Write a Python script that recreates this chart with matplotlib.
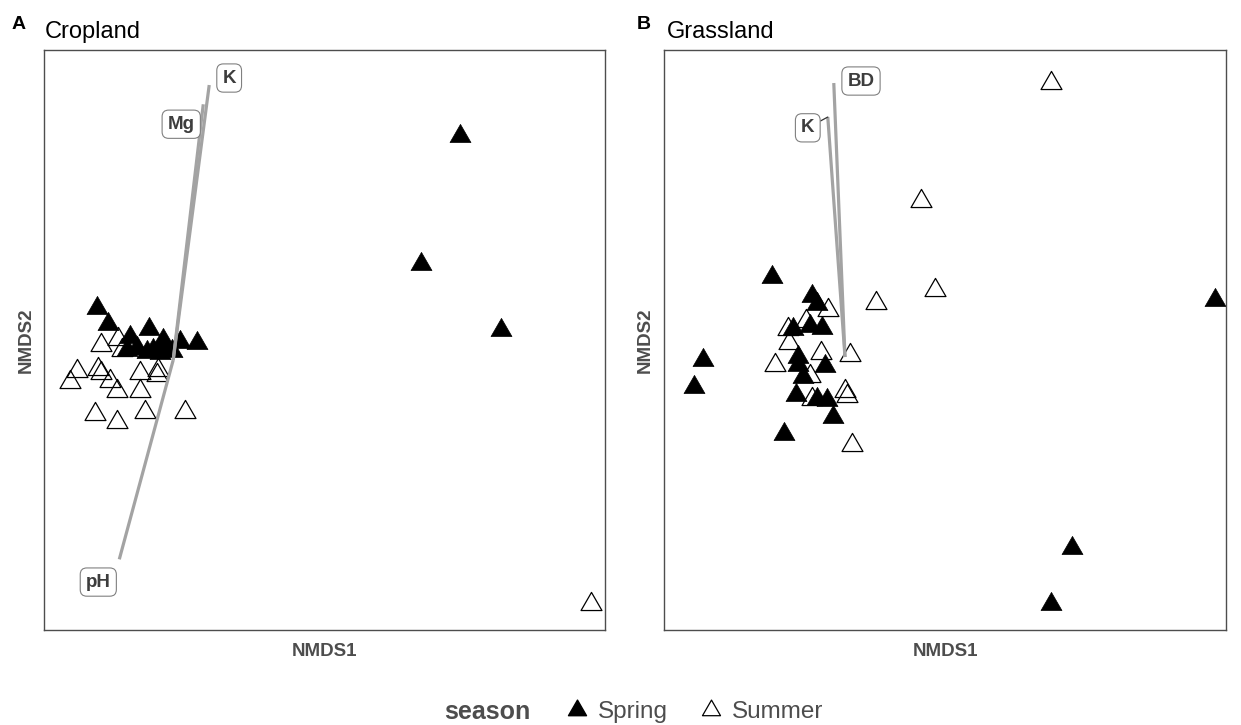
import numpy as np
import matplotlib.pyplot as plt
from matplotlib.lines import Line2D
from matplotlib.path import Path

plt.rcParams['font.family'] = ['Liberation Sans', 'DejaVu Sans']

# ---- Cropland NMDS scores ----
crop_spring_x = [-0.217, -0.186, -0.123, -0.069, -0.029, 0.020, 0.069, -0.131, -0.103,
                 -0.074, -0.057, -0.037, -0.017, -0.003, 0.820, 0.709, 0.937]
crop_spring_y = [0.149, 0.103, 0.066, 0.089, 0.057, 0.051, 0.049, 0.029, 0.034,
                 0.023, 0.029, 0.020, 0.031, 0.026, 0.640, 0.274, 0.086]
crop_summer_x = [-0.206, -0.157, -0.146, -0.123, -0.274, -0.294, -0.214, -0.206, -0.180,
                 -0.160, -0.094, -0.094, -0.046, -0.043, -0.223, -0.160, -0.080, 0.034, 1.194]
crop_summer_y = [0.043, 0.060, 0.029, 0.034, -0.031, -0.063, -0.026, -0.037, -0.060,
                 -0.089, -0.037, -0.089, -0.043, -0.029, -0.154, -0.177, -0.149, -0.149, -0.697]

# environmental fit vectors (cropland)
crop_env = ['K', 'Mg', 'pH']
crop_env_x = [0.103, 0.086, -0.154]
crop_env_y = [0.786, 0.731, -0.569]
crop_lab_x = [0.160, 0.023, -0.214]
crop_lab_y = [0.806, 0.674, -0.634]

# ---- Grassland NMDS scores ----
grass_spring_x = [-0.183, -0.083, -0.070, -0.130, -0.088, -0.058, -0.118, -0.050, -0.118, -0.105,
                  -0.355, -0.378, -0.123, -0.070, -0.045, -0.030, -0.153, 0.925, 0.568, 0.515]
grass_spring_y = [0.200, 0.153, 0.133, 0.070, 0.078, 0.073, 0.000, -0.023, -0.020, -0.050,
                  -0.008, -0.075, -0.095, -0.105, -0.108, -0.150, -0.193, 0.143, -0.478, -0.618]
grass_summer_x = [-0.043, -0.143, -0.098, -0.140, -0.060, 0.013, -0.175, -0.088,
                  -0.083, 0.000, 0.005, 0.018, 0.078, 0.225, 0.190, 0.515]
grass_summer_y = [0.118, 0.070, 0.090, 0.035, 0.010, 0.005, -0.020, -0.048,
                  -0.105, -0.085, -0.098, -0.220, 0.135, 0.168, 0.390, 0.685]

grass_env = ['BD', 'K']
grass_env_x = [-0.028, -0.043]
grass_env_y = [0.685, 0.600]
grass_lab_x = [0.040, -0.093]
grass_lab_y = [0.690, 0.573]

# closed equilateral triangle centred on its centroid
tri = Path([(-1, -0.577), (1, -0.577), (0, 1.155), (-1, -0.577)],
           [Path.MOVETO, Path.LINETO, Path.LINETO, Path.CLOSEPOLY])
msize = 17.4

fig = plt.figure(figsize=(12.41, 7.25), dpi=100)
ax1 = fig.add_axes([0.0355, 0.131, 0.452, 0.800])
ax2 = fig.add_axes([0.535, 0.131, 0.453, 0.800])


def panel(ax, sx, sy, ux, uy, env, ex, ey, lx, ly, xlim, ylim, seg=()):
    ax.plot(sx, sy, ls='none', marker=tri, ms=msize, mfc='black', mec='black', mew=0.5)
    ax.plot(ux, uy, ls='none', marker=tri, ms=msize, mfc='none', mec='black', mew=0.9)
    for name, x, y, tx, ty in zip(env, ex, ey, lx, ly):
        ax.plot([0, x], [0, y], color='#a3a3a3', lw=2.3, solid_capstyle='butt')
        box = dict(boxstyle='round,pad=0.3,rounding_size=0.35', fc='white', ec='#808080', lw=0.8)
        if name in seg:
            ax.annotate(name, xy=(x, y), xytext=(tx, ty), ha='center', va='center',
                        fontsize=13.5, fontweight='bold', color='#3d3d3d', bbox=box,
                        arrowprops=dict(arrowstyle='-', color='#333333', lw=0.9,
                                        shrinkA=0, shrinkB=0))
        else:
            ax.text(tx, ty, name, ha='center', va='center', fontsize=13.5,
                    fontweight='bold', color='#3d3d3d', bbox=box)
    ax.set_xlim(*xlim)
    ax.set_ylim(*ylim)
    ax.set_xticks([])
    ax.set_yticks([])
    for s in ax.spines.values():
        s.set_color('#4d4d4d')
        s.set_linewidth(1.0)
    ax.set_xlabel('NMDS1', fontsize=13.5, fontweight='bold', color='#4d4d4d', labelpad=9)
    ax.set_ylabel('NMDS2', fontsize=13.5, fontweight='bold', color='#4d4d4d', labelpad=7)


panel(ax1, crop_spring_x, crop_spring_y, crop_summer_x, crop_summer_y,
      crop_env, crop_env_x, crop_env_y, crop_lab_x, crop_lab_y,
      (-0.369, 1.234), (-0.771, 0.886))
panel(ax2, grass_spring_x, grass_spring_y, grass_summer_x, grass_summer_y,
      grass_env, grass_env_x, grass_env_y, grass_lab_x, grass_lab_y,
      (-0.4525, 0.9525), (-0.6825, 0.7675), seg=('K',))

# panel tags and titles
fig.text(12 / 1241, 1 - 29 / 725, 'A', fontsize=14, fontweight='bold', va='baseline')
fig.text(637 / 1241, 1 - 29 / 725, 'B', fontsize=14, fontweight='bold', va='baseline')
fig.text(45 / 1241, 1 - 38 / 725, 'Cropland', fontsize=17, va='baseline')
fig.text(667 / 1241, 1 - 38 / 725, 'Grassland', fontsize=17, va='baseline')

# shared legend
fig.text(530 / 1241, 1 - 712 / 725, 'season', fontsize=18, fontweight='bold',
         color='#4d4d4d', ha='right', va='center')
handles = [Line2D([], [], ls='none', marker=tri, ms=15, mfc='black', mec='black'),
           Line2D([], [], ls='none', marker=tri, ms=15, mfc='none', mec='black', mew=0.9)]
fig.legend(handles, ['Spring', 'Summer'], loc='center', ncol=2, frameon=False,
           bbox_to_anchor=(693 / 1241, 1 - 712 / 725), fontsize=17.5,
           handletextpad=0.25, columnspacing=1.2, handlelength=1.2,
           labelcolor='#4d4d4d', borderpad=0, borderaxespad=0)

fig.savefig('out.png', dpi=100)
